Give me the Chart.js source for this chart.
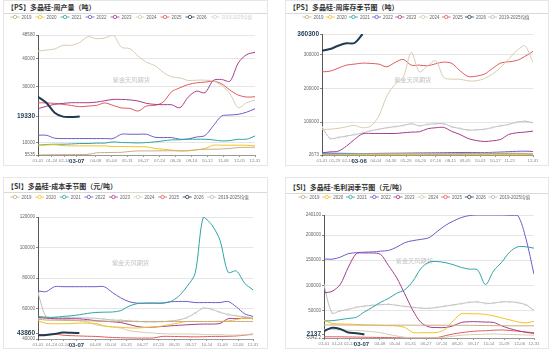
<!DOCTYPE html>
<html>
<head>
<meta charset="utf-8">
<script src="https://cdn.jsdelivr.net/npm/chart.js@4.4.1/dist/chart.umd.min.js"></script>
<style>
  html, body { margin: 0; padding: 0; background: #fff; }
  body { width: 550px; height: 350px; position: relative; overflow: hidden;
         font-family: "Noto Sans CJK SC", "Noto Sans", sans-serif; }
  .panel { position: absolute; border: 1px solid #e6e6e6; box-sizing: border-box; background: #fff; }
  .ttl { position: absolute; left: 0; right: 0; top: 0; box-sizing: border-box;
         border-bottom: 1px solid #d9d9d9; font-size: 7px; font-weight: bold; color: #333;
         padding-left: 3px; white-space: nowrap; }
  .box { position: absolute; left: 0; right: 0; bottom: 0; }
</style>
</head>
<body>

<div class="panel" style="left:3px;top:0;width:265px;height:166px">
  <div class="ttl" style="height:13px;line-height:12px">【PS】多晶硅-周产量（吨）</div>
  <div class="box" style="top:13px"><canvas id="c1"></canvas></div>
</div>
<div class="panel" style="left:285px;top:0;width:264px;height:166px">
  <div class="ttl" style="height:13px;line-height:12px">【PS】多晶硅-周库存季节图（吨）</div>
  <div class="box" style="top:13px"><canvas id="c2"></canvas></div>
</div>
<div class="panel" style="left:3px;top:177px;width:265px;height:172px">
  <div class="ttl" style="height:15px;line-height:17px">【SI】多晶硅-成本季节图（元/吨）</div>
  <div class="box" style="top:15px"><canvas id="c3"></canvas></div>
</div>
<div class="panel" style="left:285px;top:177px;width:264px;height:172px">
  <div class="ttl" style="height:16px;line-height:18px">【SI】多晶硅-毛利润季节图（元/吨）</div>
  <div class="box" style="top:16px"><canvas id="c4"></canvas></div>
</div>

<script>
// sample days (day of year), shared by every series
const sampleDay = [0, 14, 28, 42, 56, 70, 84, 98, 112, 126, 140, 154, 168, 182, 196, 210, 224, 238, 252, 266, 280, 294, 308, 322, 336, 350, 364];

const names = ["2019", "2020", "2021", "2022", "2023", "2024", "2025", "2026", "2019-2025均值"];
const colors = ["#c9ad7f", "#f5c024", "#2ea3a6", "#6f5bc9", "#a63b8d", "#d9cbb0", "#e05a5c", "#1f3a51", "#bdbdbd"];

// 【PS】周产量
const out2019 = [5535, 5600, 5650, 5650, 5700, 5700, 5750, 6300, 6400, 6450, 6500, 6800, 7000, 7000, 7000, 7050, 7050, 7000, 7100, 7400, 7600, 7600, 7700, 7900, 8200, 8300, 8300];
const out2020 = [9050, 9100, 9200, 8900, 8810, 8810, 8810, 8810, 8800, 8570, 8570, 8550, 8500, 8450, 7900, 7620, 7300, 7020, 7020, 7400, 7860, 9050, 9050, 9050, 9050, 9050, 8810];
const out2021 = [9050, 9300, 9400, 9400, 9500, 9650, 9650, 9800, 9800, 10240, 10000, 9950, 9850, 10000, 10240, 10600, 10950, 11000, 11190, 11190, 11190, 10950, 10600, 10700, 11190, 11190, 12380];
const out2022 = [12620, 12620, 11550, 11430, 11430, 11430, 11430, 11430, 11430, 11450, 12980, 12980, 12980, 12980, 11900, 11790, 11790, 11190, 11300, 12000, 12500, 16000, 19500, 19880, 20120, 20900, 22140];
const out2023 = [22140, 23000, 23690, 24050, 24290, 24290, 24290, 24500, 25000, 25480, 25480, 25300, 24900, 24050, 23690, 23570, 23570, 22500, 26300, 28450, 27860, 32260, 32620, 32020, 38570, 41550, 42380];
const out2024 = [42740, 43200, 43570, 44880, 44880, 45950, 48000, 47260, 47500, 48580, 44170, 43690, 41000, 38810, 37620, 35240, 33570, 33210, 32260, 32380, 32380, 32020, 30500, 27500, 22500, 24290, 25240];
const out2025 = [24290, 24200, 24050, 23690, 23300, 22860, 23100, 23330, 24200, 23330, 22400, 22260, 21310, 23100, 23330, 24520, 28210, 29640, 30830, 31430, 31670, 32020, 31070, 28810, 27020, 26310, 26430];
const out2026 = [26430, 24290, 20700, 19290, 19200, 19330];
const outAvg = [14000, 14200, 14300, 14400, 14500, 14600, 14800, 14900, 15000, 15100, 15000, 14900, 14800, 14700, 14600, 14800, 15000, 15200, 15500, 15800, 16000, 16500, 17000, 17200, 17500, 17800, 18000];
const outYTicks = [5535, 10000, 19330, 30000, 40000, 48580];
const outXTicks = ["01-01", "01-24", "02-14", "03-07", "04-08", "05-04", "05-31", "06-27", "07-24", "08-20", "09-16", "10-12", "11-08", "12-05", "12-31"];

// 【PS】周库存
const st2019 = [4500, 4800, 5000, 5200, 5500, 5800, 6000, 6300, 6500, 6800, 7000, 7200, 7000, 6800, 6500, 6500, 6800, 7000, 7200, 7500, 7800, 8000, 8200, 8000, 7800, 7500, 7000];
const st2020 = [3500, 3600, 3800, 4000, 4200, 4500, 4300, 4000, 3800, 3600, 3500, 3400, 3300, 3200, 3200, 3300, 3400, 3500, 3500, 3600, 3700, 3800, 4000, 4200, 4300, 4400, 4500];
const st2021 = [6000, 6200, 6500, 6800, 7000, 6800, 6500, 6200, 6000, 5800, 5600, 5500, 5500, 5400, 5300, 5200, 5200, 5300, 5500, 5800, 6000, 6300, 6500, 6800, 7000, 6500, 2673];
const st2022 = [8500, 8000, 7800, 7500, 7200, 7000, 7200, 7500, 7800, 8000, 8200, 8500, 8800, 9000, 9200, 9500, 9800, 10000, 10200, 10000, 9800, 10500, 11500, 12500, 13500, 14000, 13000];
const st2023 = [9000, 11900, 13900, 28700, 48500, 65300, 66300, 66300, 66300, 66300, 68300, 70300, 71300, 80200, 83200, 84200, 72300, 63400, 51500, 45500, 42600, 44600, 48500, 63400, 68300, 70300, 73300];
const st2024 = [78200, 79000, 81500, 86000, 90100, 83200, 88100, 117800, 177200, 211900, 231700, 306000, 248500, 266000, 281200, 231700, 226700, 226700, 221800, 221800, 228700, 241600, 261400, 286100, 310900, 325700, 276200];
const st2025 = [248500, 250500, 259400, 268300, 271300, 274300, 273300, 271300, 263400, 276200, 285100, 268300, 268300, 266300, 272300, 277200, 273300, 252000, 234700, 235700, 241600, 258400, 274300, 278200, 282000, 294000, 308900];
const st2026 = [310900, 315800, 325700, 332700, 333700, 360300];
const stAvg = [85000, 51500, 54500, 58500, 63000, 67500, 74500, 78500, 83500, 86500, 90000, 95000, 89000, 93000, 95000, 95000, 86000, 81000, 76500, 77000, 78500, 84000, 89000, 93000, 99500, 102500, 98000];
const stYTicks = [2673, 100000, 200000, 300000, 360300];
const stXTicks = ["01-01", "01-23", "02-14", "03-06", "04-04", "04-30", "05-26", "06-20", "07-16", "08-11", "09-05", "10-01", "10-27", "11-21", "12-31"];

// 【SI】成本
const co2019 = [53000, 52400, 52300, 52200, 52100, 52000, 51900, 51800, 51700, 51600, 51600, 51500, 51500, 51500, 51500, 51500, 51500, 51500, 51500, 51500, 51500, 51500, 51500, 51500, 51500, 51500, 51500];
const co2020 = [52000, 50200, 50000, 50000, 50100, 50400, 50400, 50200, 48600, 48000, 47700, 47300, 47200, 47600, 47900, 48500, 49500, 50500, 51500, 51500, 51500, 51500, 51600, 51800, 52800, 53700, 53300];
const co2021 = [54800, 54300, 54200, 54800, 55200, 55900, 56800, 57400, 57600, 57700, 58600, 61500, 63200, 63500, 63600, 63500, 64500, 68000, 74300, 83000, 120000, 115000, 104800, 83700, 84600, 76500, 72200];
const co2022 = [71500, 71100, 74300, 74300, 74300, 74300, 74300, 74300, 74300, 70500, 67000, 64500, 63500, 63500, 63500, 63500, 64400, 64600, 64600, 63900, 63900, 63900, 63900, 64600, 61000, 56500, 54800];
const co2023 = [54100, 53700, 53300, 53300, 53300, 53200, 52700, 52000, 51600, 51300, 50800, 49500, 48200, 47600, 47800, 48200, 48600, 49000, 49300, 49600, 49800, 49800, 50200, 53300, 53400, 53700, 53300];
const co2024 = [53300, 53200, 53000, 52800, 52500, 52000, 51000, 49300, 48500, 47800, 47200, 45500, 44800, 44200, 43900, 43500, 43300, 43300, 43300, 43200, 43000, 42800, 42800, 42600, 42600, 42700, 42800];
const co2025 = [42800, 43000, 43200, 42500, 42200, 42000, 41800, 41700, 41300, 41000, 40800, 40700, 40600, 40600, 40700, 41700, 41700, 41600, 41500, 41400, 41500, 41700, 41700, 41800, 42000, 42500, 43300];
const co2026 = [42400, 42700, 43300, 44200, 44100, 43860];
const coAvg = [70000, 54300, 54200, 54200, 54000, 53900, 53800, 53500, 53000, 52500, 52300, 52000, 51500, 51200, 51200, 51400, 51800, 52500, 54000, 57000, 60200, 59500, 57500, 56000, 55200, 54600, 53700];
const coYTicks = [40000, 43860, 60000, 80000, 100000, 120000];
const coXTicks = ["01-01", "01-24", "02-14", "03-07", "04-08", "05-04", "05-31", "06-27", "07-24", "08-20", "09-17", "10-14", "11-09", "12-06", "12-31"];

// 【SI】毛利润
const pf2019 = [21000, 21000, 20800, 20800, 20700, 20700, 20600, 20600, 20500, 20500, 20500, 20500, 20500, 20500, 20500, 20500, 20400, 20300, 20200, 20000, 19800, 19600, 19400, 19300, 19200, 19200, 19200];
const pf2020 = [30000, 24000, 23000, 22600, 22000, 21000, 20500, 20000, 19500, 19000, 16000, 6000, 5500, 5500, 6000, 12300, 29500, 43200, 43200, 43200, 42000, 39000, 35000, 31000, 27000, 25000, 28000];
const pf2021 = [29000, 29500, 31500, 34000, 36300, 47000, 56000, 66000, 74000, 84000, 91100, 108000, 133600, 145900, 147300, 145200, 141100, 135600, 132200, 130800, 101400, 128800, 145900, 166500, 176700, 176700, 174000];
const pf2022 = [152700, 152000, 156000, 163000, 165000, 166000, 166500, 168000, 169500, 176000, 185000, 189000, 191500, 195000, 207000, 219000, 228000, 235000, 239000, 240100, 240100, 240100, 240100, 239500, 239000, 193000, 122000];
const pf2023 = [85000, 88000, 101400, 135600, 163000, 164400, 164400, 161700, 139000, 115000, 82900, 50000, 26000, 17100, 15800, 15800, 19200, 26000, 27400, 27400, 26700, 26000, 19200, 13700, 9600, 6200, 4100];
const pf2024 = [12300, 11800, 11000, 10500, 10000, 9000, 7500, 5500, 2000, -1000, -3500, -5042.2, -5000, -4800, -4500, -3500, -1500, 500, 1500, 2000, 2500, 3000, 2500, 2000, 1500, 1000, 500];
const pf2025 = [-2700, -2700, -2700, -3000, -3200, -3500, -3800, -4000, -4200, -4500, -4800, -5000, -5000, -4800, -4200, -500, 3000, 5500, 7500, 8900, 9500, 10500, 11000, 10000, 8500, 7000, 5500];
const pf2026 = [8900, 15500, 13000, 6000, 4500, 2137];
const pfAvg = [100000, 45000, 49000, 52000, 56000, 58500, 60000, 61500, 62000, 60000, 58000, 56000, 54500, 54000, 56000, 58500, 61000, 63500, 66000, 67000, 64000, 64500, 67000, 67000, 65500, 61000, 50000];
const pfYTicks = [-5042.2, 2137, 50000, 100000, 150000, 200000, 240100];
const pfXTicks = coXTicks;

Chart.defaults.font.family = 'Arial, "Liberation Sans", "Noto Sans CJK SC", sans-serif';
Chart.defaults.color = "#666";

function dayOf(md) {
  const [m, d] = md.split("-").map(Number);
  return Math.round((Date.UTC(2021, m - 1, d) - Date.UTC(2021, 0, 1)) / 864e5);
}

// legend row like "-o- 2019", drawn on the canvas
const seasonLegend = {
  id: "seasonLegend",
  afterDraw(chart, args, o) {
    const ctx = chart.ctx;
    ctx.save();
    ctx.font = '4.5px Arial, "Noto Sans CJK SC", sans-serif';
    ctx.textBaseline = "middle";
    chart.data.datasets.forEach((ds, i) => {
      const x = o.x0 + i * o.step, y = o.y;
      const c = ds.hidden ? "#d6d6d6" : ds.borderColor;
      ctx.strokeStyle = c;
      ctx.lineWidth = 0.8;
      ctx.beginPath(); ctx.moveTo(x - 4.5, y); ctx.lineTo(x + 4.5, y); ctx.stroke();
      ctx.beginPath(); ctx.arc(x, y, 1.7, 0, Math.PI * 2);
      ctx.fillStyle = "#fff"; ctx.fill(); ctx.stroke();
      ctx.fillStyle = ds.hidden ? "#cfcfcf" : "#666";
      ctx.fillText(ds.label, x + 6.5, y + 0.3);
    });
    ctx.restore();
  }
};

const watermark = {
  id: "watermark",
  beforeDatasetsDraw(chart) {
    const a = chart.chartArea, ctx = chart.ctx;
    ctx.save();
    ctx.font = '6.2px "Noto Sans CJK SC", sans-serif';
    ctx.fillStyle = "#c4c4c4";
    ctx.textAlign = "center";
    ctx.textBaseline = "middle";
    ctx.fillText("紫金天风期货", a.left + a.width * 0.43, a.top + a.height * 0.375);
    ctx.restore();
  }
};

function seasonChart(id, series, o) {
  const datasets = series.map((vals, i) => ({
    label: names[i],
    data: vals.map((v, k) => ({ x: sampleDay[k], y: v })),
    borderColor: colors[i],
    backgroundColor: colors[i],
    borderWidth: i === 7 ? 2 : 1,
    pointRadius: i === 8 && o.avgDots ? 0.8 : 0,
    pointBackgroundColor: "#fff",
    pointBorderWidth: 0.6,
    tension: 0.3,
    hidden: i === 8 && o.avgHidden,
    order: i === 7 ? -1 : 0
  }));
  const isMarkX = (c) => c.tick && o.xTicks[c.index] === o.xMark;
  const isMarkY = (c) => c.tick && c.tick.value === o.yMark;

  new Chart(document.getElementById(id), {
    type: "line",
    data: { datasets },
    options: {
      responsive: true,
      maintainAspectRatio: false,
      animation: false,
      layout: { padding: o.pad },
      plugins: {
        legend: { display: false },
        tooltip: { enabled: false },
        seasonLegend: o.legend
      },
      scales: {
        x: {
          type: "linear",
          min: 0,
          max: 364,
          afterBuildTicks: (s) => { s.ticks = o.xTicks.map((l) => ({ value: dayOf(l) })); },
          afterFit: (s) => { s.height = 8; },
          ticks: {
            autoSkip: false, maxRotation: 0, minRotation: 0, padding: 1,
            callback: (v, i) => o.xTicks[i],
            font: (c) => isMarkX(c) ? { size: 6, weight: "bold" } : { size: 4.3 },
            color: (c) => isMarkX(c) ? "#1f3a51" : "#888"
          },
          grid: { drawOnChartArea: false, drawTicks: true, tickLength: 2, tickColor: "#999" },
          border: { color: "#999" }
        },
        y: {
          min: o.yTicks[0],
          max: o.yTicks[o.yTicks.length - 1],
          afterBuildTicks: (s) => { s.ticks = o.yTicks.map((v) => ({ value: v })); },
          afterFit: (s) => { s.width = o.yWidth; },
          ticks: {
            autoSkip: false, padding: 1,
            callback: (v) => String(v),
            font: (c) => isMarkY(c) ? { size: 6.5, weight: "bold" } : { size: 4.6 },
            color: (c) => isMarkY(c) ? "#1f3a51" : "#666"
          },
          grid: {
            color: (c) => (isMarkY(c) && !o.markGrid) ? "rgba(0,0,0,0)" : "#e6e6e6",
            tickLength: 2,
            tickColor: "#888"
          },
          border: { color: "#555" }
        }
      }
    },
    plugins: [seasonLegend, watermark]
  });
}

seasonChart("c1",
  [out2019, out2020, out2021, out2022, out2023, out2024, out2025, out2026, outAvg],
  { yTicks: outYTicks, yMark: 19330, markGrid: true, xTicks: outXTicks, xMark: "03-07",
    avgHidden: true, yWidth: 34, pad: { left: 0, right: 12, top: 21, bottom: 2 },
    legend: { x0: 11, step: 25, y: 3 } });

seasonChart("c2",
  [st2019, st2020, st2021, st2022, st2023, st2024, st2025, st2026, stAvg],
  { yTicks: stYTicks, yMark: 360300, markGrid: true, xTicks: stXTicks, xMark: "03-06",
    avgDots: true, yWidth: 36, pad: { left: 0, right: 15, top: 20, bottom: 2 },
    legend: { x0: 21, step: 23.2, y: 3 } });

seasonChart("c3",
  [co2019, co2020, co2021, co2022, co2023, co2024, co2025, co2026, coAvg],
  { yTicks: coYTicks, yMark: 43860, markGrid: false, xTicks: coXTicks, xMark: "03-07",
    avgDots: true, yWidth: 34, pad: { left: 0, right: 14, top: 24, bottom: 1 },
    legend: { x0: 11, step: 24.6, y: 4 } });

seasonChart("c4",
  [pf2019, pf2020, pf2021, pf2022, pf2023, pf2024, pf2025, pf2026, pfAvg],
  { yTicks: pfYTicks, yMark: 2137, markGrid: false, xTicks: pfXTicks, xMark: "03-07",
    avgDots: true, yWidth: 38, pad: { left: 0, right: 14, top: 21, bottom: 2 },
    legend: { x0: 17, step: 23.75, y: 3 } });
</script>
</body>
</html>
